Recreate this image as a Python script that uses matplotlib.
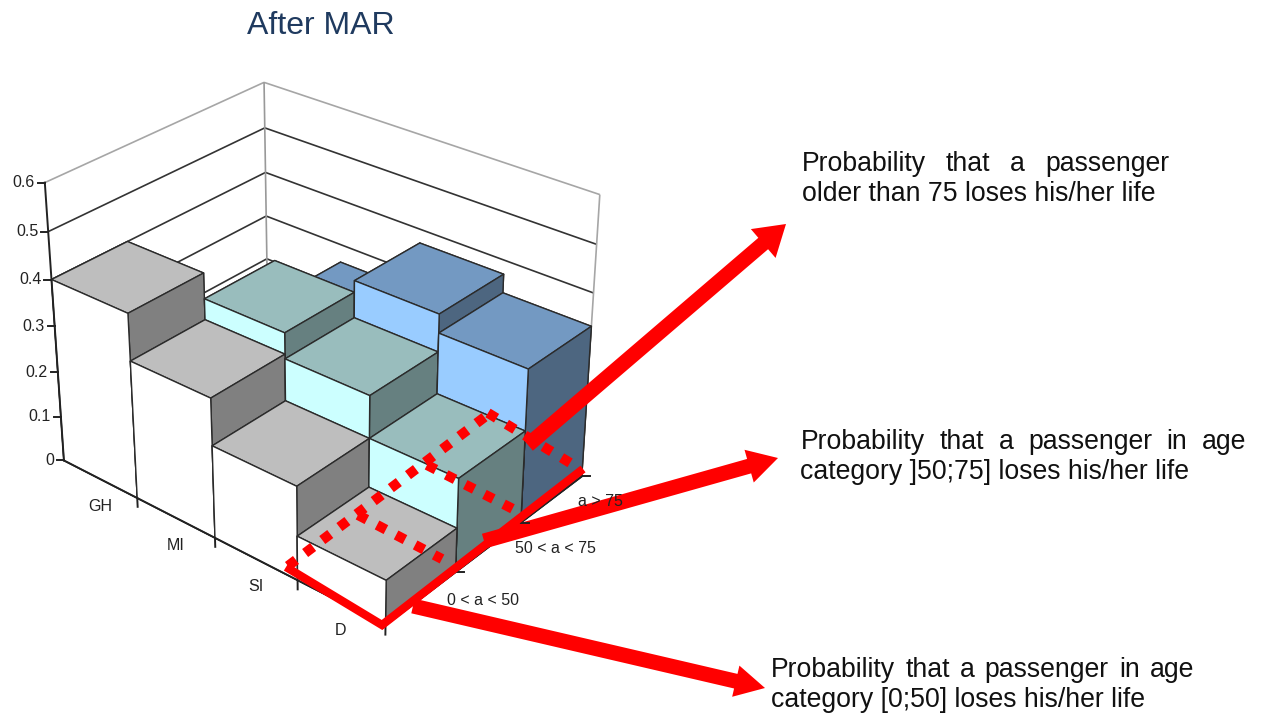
import matplotlib
matplotlib.use("Agg")
import matplotlib.pyplot as plt
import numpy as np
from matplotlib.patches import Polygon
from mpl_toolkits.mplot3d import Axes3D
from mpl_toolkits.mplot3d.art3d import Line3DCollection

plt.rcParams['font.family'] = ['Liberation Sans', 'DejaVu Sans']

W, H = 1264, 715

categories = ["GH", "MI", "SI", "D"]
age_labels = ["0 < a < 50", "50 < a < 75", "a > 75"]
z_ticks = [0, 0.1, 0.2, 0.3, 0.4, 0.5, 0.6]
z_tick_labels = ["0", "0.1", "0.2", "0.3", "0.4", "0.5", "0.6"]

young = [0.40, 0.30, 0.20, 0.095]
middle = [0.17, 0.345, 0.29, 0.20]
old = [0.15, 0.26, 0.37, 0.33]

top_cols = ["#BEBEBE", "#99BDBD", "#7399C2"]
front_cols = ["#FFFFFF", "#CCFFFF", "#99CCFF"]
side_cols = ["#808080", "#668080", "#4D6680"]

# camera: corners of the chart box and where they land on the canvas
box_xyz = np.array([
    [0, 0, 0], [0, 0, 0.3], [0, 0, 0.6], [4, 0, 0], [0, 3, 0.6], [0, 3, 0.3],
    [4, 3, 0], [4, 3, 0.6], [1, 0, 0], [2, 0, 0], [1, 0, 0.4], [0, 3, 0],
])
box_px = np.array([
    [63, 460], [54, 326], [45, 183], [384, 627], [264, 82], [265, 216],
    [582, 475], [600, 195], [138, 498], [216, 537], [129, 313], [269, 343],
])


def fit_camera(xyz, px):
    """Direct linear transform, returns a 3x4 matrix in pixels."""
    rows = []
    for (x, y, z), (u, v) in zip(xyz, px / 1000.0):
        rows.append([x, y, z, 1, 0, 0, 0, 0, -u * x, -u * y, -u * z, -u])
        rows.append([0, 0, 0, 0, x, y, z, 1, -v * x, -v * y, -v * z, -v])
    p = np.linalg.svd(np.array(rows))[2][-1].reshape(3, 4)
    if p[2, 3] < 0:
        p = -p
    p[:2] *= 1000.0
    return p


camera = fit_camera(box_xyz, box_px)


def to_px(x, y, z):
    u, v, w = camera @ np.array([x, y, z, 1.0])
    return u / w, v / w


fig = plt.figure(figsize=(W / 100, H / 100), dpi=100)
ax = fig.add_axes([0, 0, 1, 1], projection="3d", computed_zorder=False)
ax.set_axis_off()
ax.apply_aspect = lambda position=None: None


def chart_proj():
    # pixel coords (y down) -> display -> the 2D data space of the 3d axes
    flip = np.array([[1, 0, 0], [0, -1, H], [0, 0, 1]], dtype=float)
    to_2d = ax.transData.inverted().get_matrix() @ flip
    p = to_2d @ camera
    depth = np.array([-0.1, 0.1, -0.15, 0.0]) * p[2, 3]
    return np.array([p[0], p[1], depth, p[2]])


ax.get_proj = chart_proj

# walls
wall_segs, wall_cols = [], []
for z in z_ticks[1:]:
    col = "#A6A6A6" if z == 0.6 else "#333333"
    wall_segs += [[(0, 0, z), (0, 3, z)], [(0, 3, z), (4, 3, z)]]
    wall_cols += [col, col]
wall_segs += [[(0, 3, 0), (0, 3, 0.6)], [(4, 3, 0), (4, 3, 0.6)]]
wall_cols += ["#999999", "#A6A6A6"]
walls = Line3DCollection(wall_segs, colors=wall_cols, linewidths=1.2)
walls.set_zorder(1)
ax.add_collection3d(walls)

# bars, back to front so that the nearer ones cover the others
order = 3
for i in range(len(categories)):
    for j, vals in reversed(list(enumerate([young, middle, old]))):
        faces = [top_cols[j], top_cols[j], front_cols[j], front_cols[j],
                 side_cols[j], side_cols[j]]
        bar = ax.bar3d(i, j, 0, 1, 1, vals[i], color=faces, shade=False,
                       edgecolor="#2B2B2B", linewidth=1.0)
        bar.set_zorder(order)
        order += 1

# axes
axis_kw = dict(color="#222222", lw=1.4, zorder=100)
ax.plot([0, 0], [0, 0], [0, 0.6], **axis_kw)
ax.plot([0, 4, 4], [0, 0, 3], [0, 0, 0], **axis_kw)
for i in range(5):
    ax.plot([i, i], [0, 0], [0, -0.02], **axis_kw)

# callouts and labels on top, in canvas pixels
over = fig.add_axes([0, 0, 1, 1], facecolor="none")
over.set_xlim(0, W)
over.set_ylim(H, 0)
over.set_axis_off()

lab_kw = dict(fontsize=11.5, color="#222222", va="center")
tick_kw = dict(color="#222222", lw=1.4)
for z, lab in zip(z_ticks, z_tick_labels):
    u, v = to_px(0, 0, z)
    over.plot([u - 7, u], [v, v], **tick_kw)
    over.text(u - 10, v, lab, ha="right", **lab_kw)
for j in range(1, 4):
    u, v = to_px(4, j, 0)
    over.plot([u, u + 8], [v, v], **tick_kw)
for i, name in enumerate(categories):
    u, v = to_px(i + 0.5, 0, 0)
    over.text(u, v + 28, name, ha="center", **lab_kw)
for j, name in enumerate(age_labels):
    u, v = to_px(4, j + 0.5, 0)
    over.text(u + 26, v + 2, name, ha="left", **lab_kw)


def arrow(x0, y0, x1, y1, width, head_w, head_l):
    d = np.array([x1 - x0, y1 - y0], dtype=float)
    d /= np.hypot(*d)
    n = np.array([-d[1], d[0]])
    a, b = np.array([x0, y0]), np.array([x1, y1])
    c = b - d * head_l
    pts = [a + n * width / 2, c + n * width / 2, c + n * head_w / 2, b,
           c - n * head_w / 2, c - n * width / 2, a - n * width / 2]
    over.add_patch(Polygon(pts, closed=True, color="#FF0000", lw=0))


arrow(528, 445, 786, 224, 15, 38, 30)
arrow(484, 541, 778, 458, 15, 34, 30)
arrow(413, 606, 765, 688, 15, 32, 30)

over.plot([286, 382, 583], [567, 625, 469], color="#FF0000", lw=6,
          solid_joinstyle="miter", solid_capstyle="butt")
dots = dict(color="#FF0000", lw=7.2, linestyle=(0, (1.0, 1.15)), dash_capstyle="butt")
over.plot([288, 490], [566, 413], **dots)
over.plot([358, 442], [515, 559], **dots)
over.plot([427, 515], [465, 510], **dots)
over.plot([488, 572], [413, 464], **dots)

over.text(321, 26.5, "After MAR", ha="center", va="center", fontsize=23,
          color="#1F3A5F")


def line_of_text(words, x0, x1, y, size=19.2):
    # spreads the words evenly between x0 and x1, like justified text
    r = fig.canvas.get_renderer()
    items = [over.text(x0, y, w, ha="left", va="center", fontsize=size, color="#111111")
             for w in words]
    widths = [t.get_window_extent(r).width for t in items]
    gap = (x1 - x0 - sum(widths)) / (len(words) - 1)
    x = x0
    for t, w in zip(items, widths):
        t.set_x(x)
        x += w + gap


def plain_line(text, x0, y, size=19.2):
    over.text(x0, y, text, ha="left", va="center", fontsize=size, color="#111111")


line_of_text("Probability that a passenger".split(), 802, 1169, 164)
plain_line("older than 75 loses his/her life", 802, 194)
line_of_text("Probability that a passenger in age".split(), 801, 1246, 442)
plain_line("category ]50;75] loses his/her life", 800, 472)
line_of_text("Probability that a passenger in age".split(), 771, 1194, 670)
plain_line("category [0;50] loses his/her life", 771, 700)

fig.savefig("out.png", dpi=100)
